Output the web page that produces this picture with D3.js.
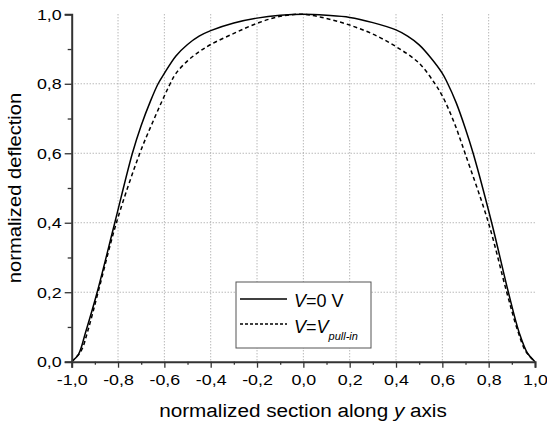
<!DOCTYPE html>
<html>
<head>
<meta charset="utf-8">
<script src="https://cdn.jsdelivr.net/npm/d3@7"></script>
<style>
  body { margin: 0; background: #fff; }
  text { font-family: "Liberation Sans", Arial, sans-serif; fill: #000; }
</style>
</head>
<body>
<svg id="chart" width="547" height="423"></svg>
<script>
// section positions and deflections, V = 0 V
const xZero = [-1.0, -0.97, -0.94, -0.89, -0.814, -0.738, -0.7, -0.66, -0.627, -0.6, -0.55, -0.5, -0.45, -0.4, -0.3, -0.2, -0.1, 0,
  0.1, 0.2, 0.3, 0.4, 0.45, 0.5, 0.55, 0.6, 0.62, 0.66, 0.7, 0.733, 0.813, 0.885, 0.932, 0.967, 1.0];
const yZero = [0, 0.022, 0.085, 0.2, 0.4, 0.6, 0.68, 0.75, 0.8, 0.83, 0.88, 0.913, 0.937, 0.953, 0.975, 0.989, 0.997, 1.0,
  0.997, 0.991, 0.976, 0.955, 0.937, 0.912, 0.875, 0.83, 0.805, 0.745, 0.67, 0.6, 0.4, 0.2, 0.083, 0.025, 0];

// V = V pull-in
const xPull = [-1.0, -0.96, -0.93, -0.886, -0.807, -0.706, -0.65, -0.6, -0.575, -0.55, -0.5, -0.45, -0.4, -0.3, -0.2, -0.1, 0,
  0.1, 0.2, 0.3, 0.4, 0.5, 0.568, 0.6, 0.65, 0.698, 0.799, 0.878, 0.925, 0.96, 1.0];
const yPull = [0, 0.03, 0.09, 0.2, 0.4, 0.6, 0.69, 0.765, 0.8, 0.83, 0.866, 0.892, 0.913, 0.945, 0.974, 0.994, 1.0,
  0.988, 0.969, 0.943, 0.907, 0.859, 0.8, 0.765, 0.69, 0.6, 0.4, 0.2, 0.09, 0.03, 0];

const xTicks = [-1.0, -0.8, -0.6, -0.4, -0.2, 0, 0.2, 0.4, 0.6, 0.8, 1.0];
const yTicks = [0, 0.2, 0.4, 0.6, 0.8, 1.0];
const minorTicks = [-0.9, -0.7, -0.5, -0.3, -0.1, 0.1, 0.3, 0.5, 0.7, 0.9];
const yMinor = [0.1, 0.3, 0.5, 0.7, 0.9];

const fmt = d => d3.format(".1f")(d).replace(".", ",").replace("−", "-");

const svg = d3.select("#chart");
const plotL = 71.7, plotR = 535, plotT = 14.3, plotB = 361.7;

const x = d3.scaleLinear().domain([-1, 1]).range([plotL, plotR]);
const y = d3.scaleLinear().domain([0, 1]).range([plotB, plotT]);

// the original text is a bit wider than Liberation Sans
function stretch(sel, k) {
  sel.each(function () {
    const w = this.getComputedTextLength();
    d3.select(this).attr("textLength", w * k).attr("lengthAdjust", "spacingAndGlyphs");
  });
}

// grid
svg.append("g").selectAll("line")
  .data(xTicks.filter(d => d > -1 && d < 1))
  .join("line")
  .attr("x1", d => x(d)).attr("x2", d => x(d))
  .attr("y1", plotT).attr("y2", plotB)
  .attr("stroke", "#999").attr("stroke-dasharray", "1,2");
svg.append("g").selectAll("line")
  .data(yTicks.filter(d => d > 0 && d < 1))
  .join("line")
  .attr("x1", plotL).attr("x2", plotR)
  .attr("y1", d => y(d)).attr("y2", d => y(d))
  .attr("stroke", "#999").attr("stroke-dasharray", "1,2");

// curves
const line = d3.line().x(d => x(d[0])).y(d => y(d[1])).curve(d3.curveCatmullRom.alpha(0.5));
svg.append("path")
  .attr("d", line(d3.zip(xZero, yZero)))
  .attr("fill", "none").attr("stroke", "#000").attr("stroke-width", 1.5);
svg.append("path")
  .attr("d", line(d3.zip(xPull, yPull)))
  .attr("fill", "none").attr("stroke", "#000").attr("stroke-width", 1.5)
  .attr("stroke-dasharray", "4,3");

// axes
const xAxis = svg.append("g").attr("transform", `translate(0,${plotB})`)
  .call(d3.axisBottom(x).tickValues(xTicks).tickFormat(fmt).tickSize(6).tickPadding(6));
svg.append("g").attr("transform", `translate(0,${plotB})`)
  .call(d3.axisBottom(x).tickValues(minorTicks).tickFormat("").tickSize(3))
  .select(".domain").remove();
const yAxis = svg.append("g").attr("transform", `translate(${plotL},0)`)
  .call(d3.axisLeft(y).tickValues(yTicks).tickFormat(fmt).tickSize(7).tickPadding(3));
svg.append("g").attr("transform", `translate(${plotL},0)`)
  .call(d3.axisLeft(y).tickValues(yMinor).tickFormat("").tickSize(4))
  .select(".domain").remove();

svg.selectAll(".domain").attr("stroke", "#333").attr("stroke-width", 2);
svg.selectAll(".tick line").attr("stroke", "#333").attr("stroke-width", 1.3);
xAxis.selectAll("text").attr("font-size", 15.5).attr("font-family", "Liberation Sans, Arial, sans-serif").attr("fill", "#000")
  .call(stretch, 1.15);
yAxis.selectAll("text").attr("font-size", 15.5).attr("font-family", "Liberation Sans, Arial, sans-serif").attr("fill", "#000")
  .call(stretch, 1.15);

// axis titles
svg.append("text")
  .attr("x", 303).attr("y", 417)
  .attr("text-anchor", "middle").attr("font-size", 18)
  .html('normalized section along <tspan font-style="italic">y</tspan> axis')
  .call(stretch, 1.15);
svg.append("text")
  .attr("transform", "translate(21,188) rotate(-90)")
  .attr("text-anchor", "middle").attr("font-size", 18)
  .text("normalized deflection")
  .call(stretch, 1.12);

// legend
const lg = svg.append("g");
lg.append("rect")
  .attr("x", 236).attr("y", 282).attr("width", 135).attr("height", 66)
  .attr("fill", "#fff").attr("stroke", "#555").attr("stroke-width", 1);
lg.append("line").attr("x1", 240).attr("x2", 287).attr("y1", 299).attr("y2", 299)
  .attr("stroke", "#000").attr("stroke-width", 1.5);
lg.append("line").attr("x1", 240).attr("x2", 287).attr("y1", 324).attr("y2", 324)
  .attr("stroke", "#000").attr("stroke-width", 1.5).attr("stroke-dasharray", "3,2");
lg.append("text").attr("x", 294).attr("y", 306.5).attr("font-size", 18)
  .html('<tspan font-style="italic">V</tspan>=0 V');
lg.append("text").attr("x", 294).attr("y", 333).attr("font-size", 18)
  .html('<tspan font-style="italic">V</tspan>=<tspan font-style="italic">V</tspan><tspan font-style="italic" font-size="11" dy="7">pull-in</tspan>');
</script>
</body>
</html>
